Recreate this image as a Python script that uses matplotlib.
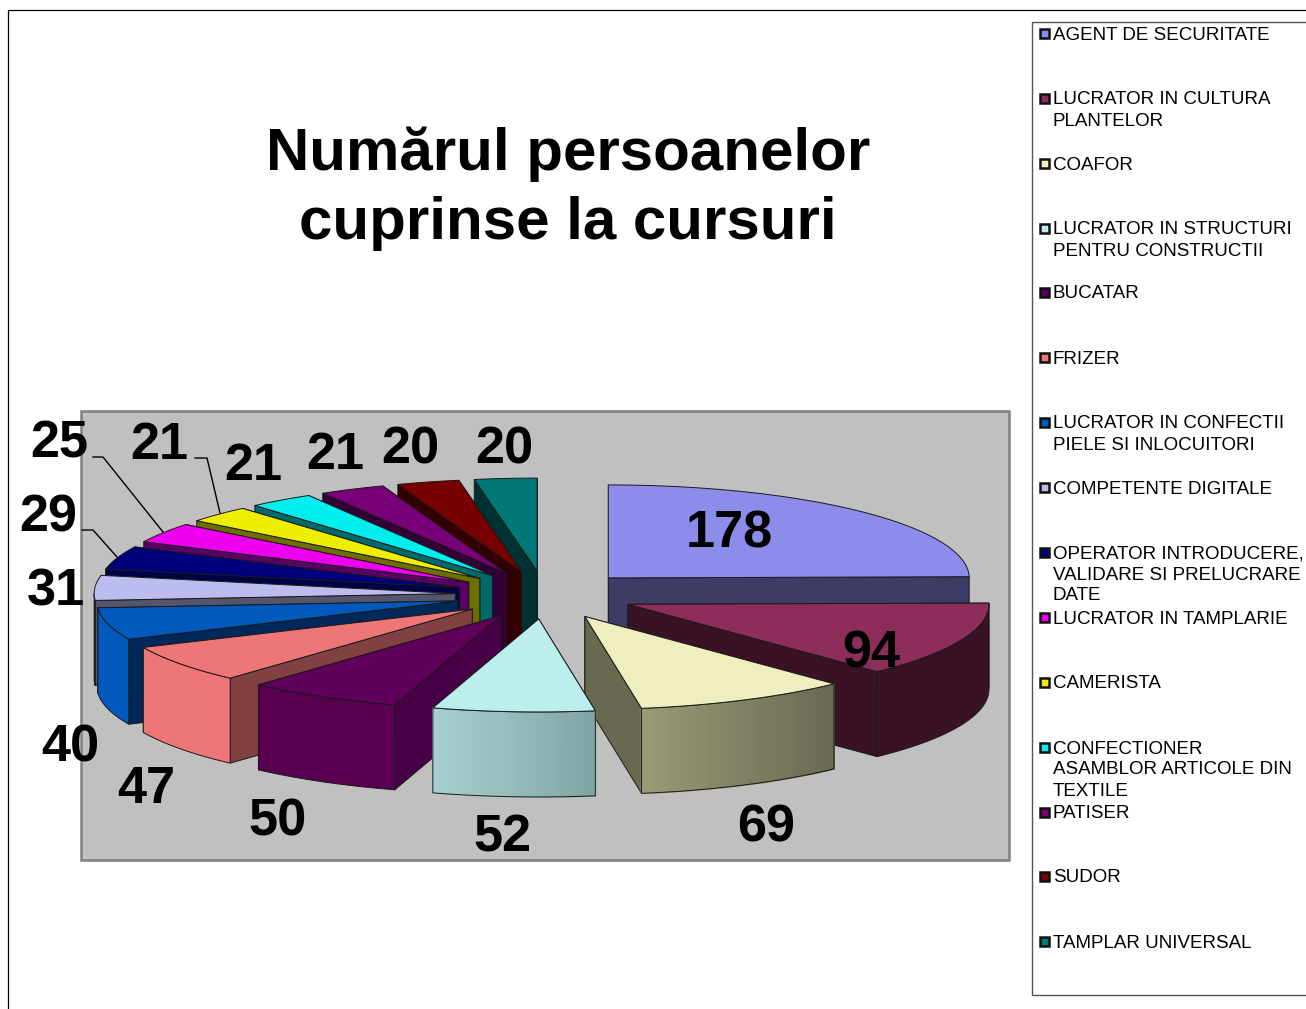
import numpy as np
import matplotlib
matplotlib.use("Agg")
import matplotlib.pyplot as plt
from matplotlib.patches import Polygon, Rectangle

# ---- data ----
categories = ["AGENT DE SECURITATE", "LUCRATOR IN CULTURA\nPLANTELOR", "COAFOR",
              "LUCRATOR IN STRUCTURI\nPENTRU CONSTRUCTII", "BUCATAR", "FRIZER",
              "LUCRATOR IN CONFECTII\nPIELE SI INLOCUITORI", "COMPETENTE DIGITALE",
              "OPERATOR INTRODUCERE,\nVALIDARE SI PRELUCRARE\nDATE", "LUCRATOR IN TAMPLARIE",
              "CAMERISTA", "CONFECTIONER\nASAMBLOR ARTICOLE DIN\nTEXTILE", "PATISER",
              "SUDOR", "TAMPLAR UNIVERSAL"]
values = [178, 94, 69, 52, 50, 47, 40, 31, 29, 25, 21, 21, 21, 20, 20]
title = "Numărul persoanelor\ncuprinse la cursuri"

# ---- styles ----
top_colors = ["#8C8CEB", "#8C2D5A", "#EEEEBE", "#BCEEEE", "#5F005A", "#EE7676", "#005ABE",
              "#BCBCEE", "#00007D", "#EE00EE", "#EEEE00", "#00EEEE", "#780078", "#780000", "#007878"]
side_colors = ["#3C3C64", "#3A1226", "#696950", "#7A9A9A", "#480046", "#824141", "#00285A",
               "#55556E", "#000046", "#5A0064", "#6E6E00", "#006969", "#320037", "#320000", "#003232"]
wall_left = ["#3C3C64", "#3A1226", "#9B9B78", "#A8D0D0", "#58004F", "#EE7676", "#005ABE",
             "#55556E", "#000046", "#5A0064", "#6E6E00", "#006969", "#320037", "#320000", "#003232"]
wall_right = ["#3C3C64", "#3A1226", "#696950", "#82A5A5", "#58004F", "#EE7676", "#005ABE",
              "#55556E", "#000046", "#5A0064", "#6E6E00", "#006969", "#320037", "#320000", "#003232"]
label_xy = [(729, 528), (871, 649), (766, 822), (502, 832), (278, 816), (146, 784), (70, 742),
            (56, 586), (48, 512), (59, 439), (159, 440), (253, 461), (335, 450), (410, 444), (504, 444)]
legend_y = [33, 98, 163, 228, 292, 357, 422, 487, 552, 617, 682, 747, 812, 876, 941]
leaders = [[(93, 457), (103, 457), (163, 532)],
           [(195, 458), (207, 458), (220, 513)],
           [(82, 530), (93, 530), (117, 557)]]

W, H = 1306, 1009
CX, CY, RX, RY, EX, EY, DEPTH = 545, 595, 361, 93, 90, 24, 85
EDGE = "#1a1a1a"

plt.rcParams["font.family"] = ["Liberation Sans", "DejaVu Sans"]
fig = plt.figure(figsize=(W / 100, H / 100), dpi=100, facecolor="white")
ax = fig.add_axes([0, 0, 1, 1])
ax.set_xlim(0, W)
ax.set_ylim(H, 0)
ax.axis("off")

# page frame, plot area, legend box
ax.plot([8, 8, W], [H, 10, 10], color="black", lw=0.9, zorder=1)
ax.add_patch(Rectangle((81, 411), 928, 449, fc="#C0C0C0", ec="#808080", lw=1.8, zorder=1))
ax.add_patch(Rectangle((1032, 22), W + 20 - 1032, 973, fc="white", ec="#555555", lw=1.0, zorder=1))

ax.text(568, 148.5, title.split("\n")[0], ha="center", va="center_baseline", fontsize=43.2, fontweight="bold", zorder=5)
ax.text(568, 217.5, title.split("\n")[1], ha="center", va="center_baseline", fontsize=43.2, fontweight="bold", zorder=5)

vals = np.array(values, float)
edges = np.concatenate([[0], np.cumsum(vals)]) / vals.sum() * 2 * np.pi


def rim(apex, a):
    return apex[0] + RX * np.sin(a), apex[1] - RY * np.cos(a)


z = 10


def add(poly, fc, ec=EDGE, lw=0.7):
    global z
    ax.add_patch(Polygon(poly, closed=True, fc=fc, ec=ec, lw=lw, zorder=z, joinstyle="round"))
    z += 0.001


def radial_wall(apex, a, color):
    x, y = rim(apex, a)
    add([apex, (x, y), (x, y + DEPTH), (apex[0], apex[1] + DEPTH)], color)


def draw_slice(i):
    a0, a1 = edges[i], edges[i + 1]
    mid = (a0 + a1) / 2
    apex = (CX + EX * np.sin(mid), CY - EY * np.cos(mid))
    # radial walls, hidden one first
    if mid < np.pi:
        radial_wall(apex, a0, side_colors[i])
        radial_wall(apex, a1, side_colors[i])
    else:
        radial_wall(apex, a1, side_colors[i])
        radial_wall(apex, a0, side_colors[i])
    # outer wall, only the part facing the viewer
    lo, hi = max(a0, np.pi / 2), min(a1, 3 * np.pi / 2)
    if hi > lo:
        ang = np.linspace(lo, hi, 40)
        xs, ys = rim(apex, ang)
        outline = list(zip(xs, ys)) + list(zip(xs[::-1], ys[::-1] + DEPTH))
        if wall_left[i] == wall_right[i]:
            add(outline, wall_left[i])
        else:
            xmin, xmax = xs.min(), xs.max()
            cl = np.array(matplotlib.colors.to_rgb(wall_left[i]))
            cr = np.array(matplotlib.colors.to_rgb(wall_right[i]))
            order = np.argsort(xs)
            for k in order[:-1]:
                j = k + 1 if k + 1 < len(xs) and xs[k + 1] > xs[k] else k - 1
                t = ((xs[k] + xs[j]) / 2 - xmin) / max(xmax - xmin, 1)
                c = cl + (cr - cl) * t
                add([(xs[k], ys[k]), (xs[j], ys[j]), (xs[j], ys[j] + DEPTH), (xs[k], ys[k] + DEPTH)],
                    c, ec=c, lw=1.2)
            add(outline, "none")
    # top face
    ang = np.linspace(a0, a1, 60)
    xs, ys = rim(apex, ang)
    add([apex] + list(zip(xs, ys)), top_colors[i])


for i in [0, 1, 2] + list(range(14, 2, -1)):
    draw_slice(i)

for pts in leaders:
    ax.plot(*zip(*pts), color="black", lw=1.0, zorder=30)

for v, (x, y) in zip(values, label_xy):
    ax.text(x, y, str(v), ha="center", va="center_baseline", fontsize=37.6, fontweight="bold", color="black", zorder=40)

for name, y, col in zip(categories, legend_y, top_colors):
    ax.add_patch(Rectangle((1039.5, y - 4.5), 9, 9, fc=col, ec="#111111", lw=1.8, zorder=5))
    for j, line in enumerate(name.split("\n")):
        ax.text(1053, y + 21 * j, line, ha="left", va="center_baseline", fontsize=13.5, color="black", zorder=5)

fig.savefig("out.png", dpi=100, facecolor="white")
